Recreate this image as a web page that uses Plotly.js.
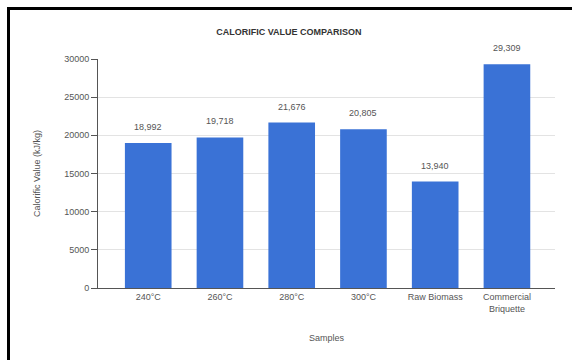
<!DOCTYPE html>
<html><head><meta charset="utf-8">
<script src="https://cdn.plot.ly/plotly-3.0.1.min.js"></script>
<style>
html,body{margin:0;padding:0;background:#fff;overflow:hidden;}
#chart{width:572px;height:360px;}
</style></head>
<body>
<div id="chart"></div>
<script>
const categories = ["240°C", "260°C", "280°C", "300°C", "Raw Biomass", "Commercial<br>Briquette"];
const calorificValues = [18992, 19718, 21676, 20805, 13940, 29309];
const valueLabels = ["18,992", "19,718", "21,676", "20,805", "13,940", "29,309"];
const yTicks = [0, 5000, 10000, 15000, 20000, 25000, 30000];

const font = "Liberation Sans, Arial, sans-serif";
const trace = {
  type: "bar",
  x: categories,
  y: calorificValues,
  marker: {color: "#3a72d6"},
  hoverinfo: "none"
};
const annotations = categories.map((c, i) => ({
  x: c, y: calorificValues[i], xref: "x", yref: "y",
  text: valueLabels[i], showarrow: false, yanchor: "middle", yshift: 16,
  font: {family: font, size: 9, color: "#555"}
}));
// outer frame lines (left and top) in paper coordinates
const W = 572, H = 360, L = 98, R = 17, T = 59, B = 72;
const pw = W - L - R, ph = H - T - B;
const px = v => (v - L) / pw;
const py = v => (H - B - v) / ph;
const frameShapes = [
  {type: "line", xref: "paper", yref: "paper", x0: px(8.5), x1: px(8.5), y0: py(7), y1: py(362), line: {color: "#000", width: 3}},
  {type: "line", xref: "paper", yref: "paper", x0: px(7), x1: px(575), y0: py(8.5), y1: py(8.5), line: {color: "#000", width: 3}}
];
const layout = {
  width: W, height: H,
  margin: {l: L, r: R, t: T, b: B},
  paper_bgcolor: "#fff", plot_bgcolor: "#fff",
  showlegend: false,
  bargap: 0.35,
  title: {text: "<b>CALORIFIC VALUE COMPARISON</b>", x: 0.505, xanchor: "center", y: 0.911, yanchor: "middle",
          font: {family: font, size: 9, color: "#333"}},
  xaxis: {
    range: [-0.7, 5.67],
    showline: true, linecolor: "#555", linewidth: 1,
    ticks: "", tickfont: {family: font, size: 9, color: "#555"},
    title: {text: "Samples", standoff: 22, font: {family: font, size: 9, color: "#555"}},
    fixedrange: true
  },
  yaxis: {
    range: [0, 30000],
    tickvals: yTicks, ticktext: yTicks.map(String),
    showline: true, linecolor: "#555", linewidth: 1,
    ticks: "outside", ticklen: 6, tickcolor: "#555",
    gridcolor: "#e3e3e3", zeroline: false,
    tickfont: {family: font, size: 9, color: "#555"},
    title: {text: "Calorific Value (kJ/kg)", standoff: 22, font: {family: font, size: 9, color: "#555"}},
    fixedrange: true
  },
  shapes: frameShapes,
  annotations: annotations
};
Plotly.newPlot("chart", [trace], layout, {displayModeBar: false, staticPlot: true});
</script>
</body></html>
